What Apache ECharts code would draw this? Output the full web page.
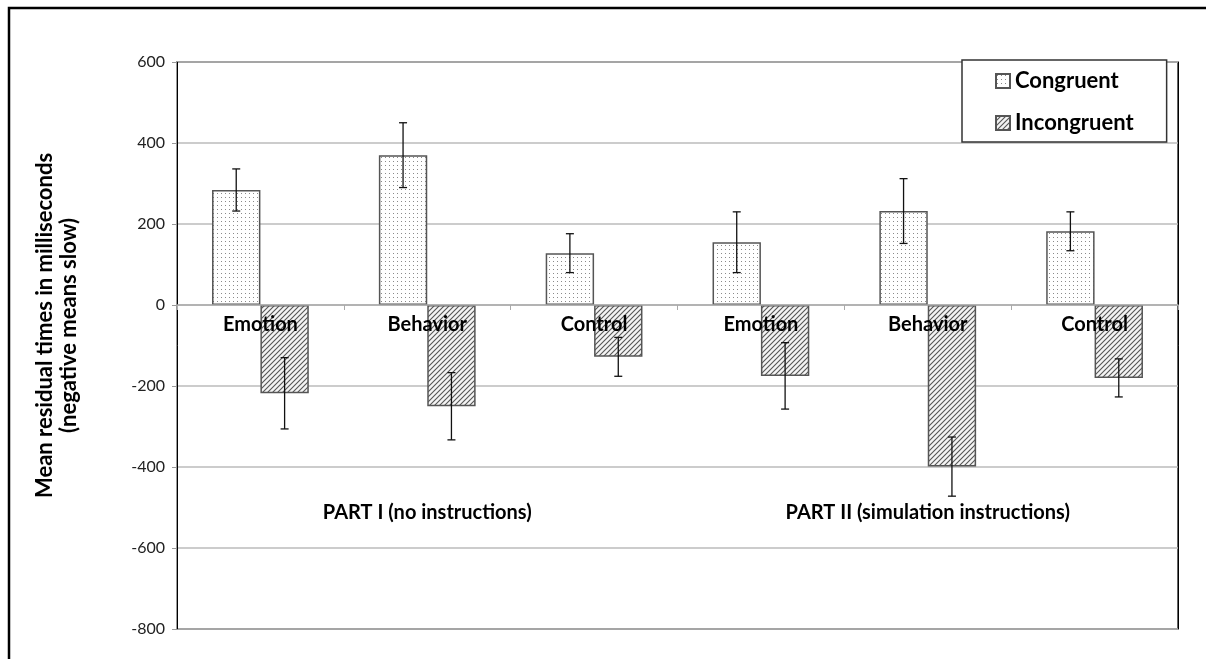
<!DOCTYPE html>
<html>
<head>
<meta charset="utf-8">
<script src="https://cdn.jsdelivr.net/npm/echarts@6/dist/echarts.min.js"></script>
<style>
html,body{margin:0;padding:0;background:#fff;}
#c{width:1206px;height:659px;}
</style>
</head>
<body>
<div id="c"></div>
<script>
// ---- data ----
const categories = ['Emotion', 'Behavior', 'Control', 'Emotion', 'Behavior', 'Control'];
const partLabels = ['PART I (no instructions)', 'PART II (simulation instructions)'];
const seriesNames = ['Congruent', 'Incongruent'];
const congruent = [284, 370, 128, 155, 232, 182];
const congruentErr = [52, 80, 48, 75, 80, 48];
const incongruent = [-218, -250, -128, -175, -399, -180];
const incongruentErr = [88, 83, 48, 82, 73, 47];
const yMin = -800, yMax = 600, yInterval = 200;
const axisTitle = 'Mean residual times in milliseconds\n(negative means slow)';

// ---- layout ----
const W = 1206, H = 659;
const GRID = { left: 177, right: 28, top: 62, bottom: 30 };
const plotH = H - GRID.top - GRID.bottom;
const zeroOffset = -plotH * (0 - yMin) / (yMax - yMin); // move category axis to value 0

// ---- patterns ----
function dotPattern() {
  const c = document.createElement('canvas');
  c.width = 4; c.height = 4;
  const g = c.getContext('2d');
  g.fillStyle = '#fff'; g.fillRect(0, 0, 4, 4);
  g.fillStyle = '#8a8a8a'; g.fillRect(1, 1, 1, 1);
  return c;
}
function hatchPattern() {
  const s = 5;
  const c = document.createElement('canvas');
  c.width = s; c.height = s;
  const g = c.getContext('2d');
  g.fillStyle = '#f4f4f4'; g.fillRect(0, 0, s, s);
  g.strokeStyle = '#555'; g.lineWidth = 1.1;
  g.beginPath();
  g.moveTo(-1, s + 1); g.lineTo(s + 1, -1);
  g.moveTo(-1, 1); g.lineTo(1, -1);
  g.moveTo(s - 1, s + 1); g.lineTo(s + 1, s - 1);
  g.stroke();
  return c;
}
const congruentFill = { image: dotPattern(), repeat: 'repeat' };
const incongruentFill = { image: hatchPattern(), repeat: 'repeat' };

const CAT_GAP = 0.42;
function errData(vals, errs) {
  return vals.map((v, i) => [i, v - errs[i], v + errs[i]]);
}
function errRender(side) {
  return function (params, api) {
    const idx = api.value(0);
    const lo = api.value(1), hi = api.value(2);
    const band = api.size([1, 0])[0];
    const bw = band * (1 - CAT_GAP) / 2;
    const off = side * bw / 2;
    const pHi = api.coord([idx, hi]);
    const pLo = api.coord([idx, lo]);
    const x = pHi[0] + off;
    const cap = 4;
    const st = { stroke: '#111', lineWidth: 1.3 };
    return {
      type: 'group',
      children: [
        { type: 'line', shape: { x1: x, y1: pHi[1], x2: x, y2: pLo[1] }, style: st },
        { type: 'line', shape: { x1: x - cap, y1: pHi[1], x2: x + cap, y2: pHi[1] }, style: st },
        { type: 'line', shape: { x1: x - cap, y1: pLo[1], x2: x + cap, y2: pLo[1] }, style: st }
      ]
    };
  };
}

const chart = echarts.init(document.getElementById('c'), null, { renderer: 'canvas' });
const boldFont = 'Lato';
chart.setOption({
  animation: false,
  backgroundColor: '#fff',
  graphic: [{
    type: 'rect',
    shape: { x: 9, y: 8, width: 1300, height: 800 },
    style: { fill: 'none', stroke: '#000', lineWidth: 2.5 },
    z: 100
  }],
  grid: {
    left: GRID.left, right: GRID.right, top: GRID.top, bottom: GRID.bottom,
    show: true, borderColor: '#333', borderWidth: 1.5, backgroundColor: 'transparent'
  },
  legend: {
    data: seriesNames,
    orient: 'vertical',
    left: 962, top: 60,
    backgroundColor: '#fff',
    borderColor: '#333', borderWidth: 1.5,
    padding: [10, 33, 8, 33],
    itemGap: 20,
    itemWidth: 14, itemHeight: 14,
    itemTextGap: 6,
    icon: 'rect',
    textStyle: { fontFamily: boldFont, fontWeight: 'bold', fontSize: 22, color: '#000' }
  },
  xAxis: [{
    type: 'category',
    data: categories,
    position: 'bottom',
    offset: zeroOffset,
    z: 10,
    axisLine: { onZero: false, lineStyle: { color: '#aaa', width: 1.5 } },
    axisTick: { show: true, length: 5, lineStyle: { color: '#aaa' } },
    axisLabel: { margin: 10, fontFamily: boldFont, fontWeight: 'bold', fontSize: 20, color: '#000' },
    splitLine: {
      show: true,
      interval: function (index) { return index === 3; },
      lineStyle: { color: '#000', width: 1 }
    }
  }, {
    type: 'category',
    data: partLabels,
    position: 'bottom',
    offset: -134,
    axisLine: { show: false, onZero: false },
    axisTick: { show: false },
    splitLine: { show: false },
    axisLabel: { margin: 8, fontFamily: boldFont, fontWeight: 'bold', fontSize: 20, color: '#000' }
  }],
  yAxis: {
    type: 'value',
    min: yMin, max: yMax, interval: yInterval,
    name: axisTitle,
    nameLocation: 'middle',
    nameGap: 96,
    nameTextStyle: {
      fontFamily: boldFont, fontWeight: 'bold', fontSize: 22, color: '#000',
      lineHeight: 24, padding: [0, 0, 0, 40]
    },
    axisLine: { show: true, lineStyle: { color: '#999', width: 2 } },
    axisTick: { show: true, length: 5, lineStyle: { color: '#999' } },
    axisLabel: { margin: 12, fontFamily: 'Lato', fontSize: 16, color: '#222' },
    splitLine: { show: true, lineStyle: { color: '#bbb', width: 1.5 } }
  },
  series: [{
    name: seriesNames[0],
    type: 'bar',
    data: congruent,
    barGap: '0%',
    barCategoryGap: (CAT_GAP * 100) + '%',
    itemStyle: { color: congruentFill, borderColor: '#555', borderWidth: 1.5 }
  }, {
    name: seriesNames[1],
    type: 'bar',
    data: incongruent,
    barGap: '0%',
    barCategoryGap: (CAT_GAP * 100) + '%',
    itemStyle: { color: incongruentFill, borderColor: '#555', borderWidth: 1.5 }
  }, {
    name: 'errC',
    type: 'custom',
    data: errData(congruent, congruentErr),
    encode: { x: 0, y: [1, 2] },
    renderItem: errRender(-1),
    z: 5
  }, {
    name: 'errI',
    type: 'custom',
    data: errData(incongruent, incongruentErr),
    encode: { x: 0, y: [1, 2] },
    renderItem: errRender(1),
    z: 5
  }]
});
</script>
</body>
</html>
